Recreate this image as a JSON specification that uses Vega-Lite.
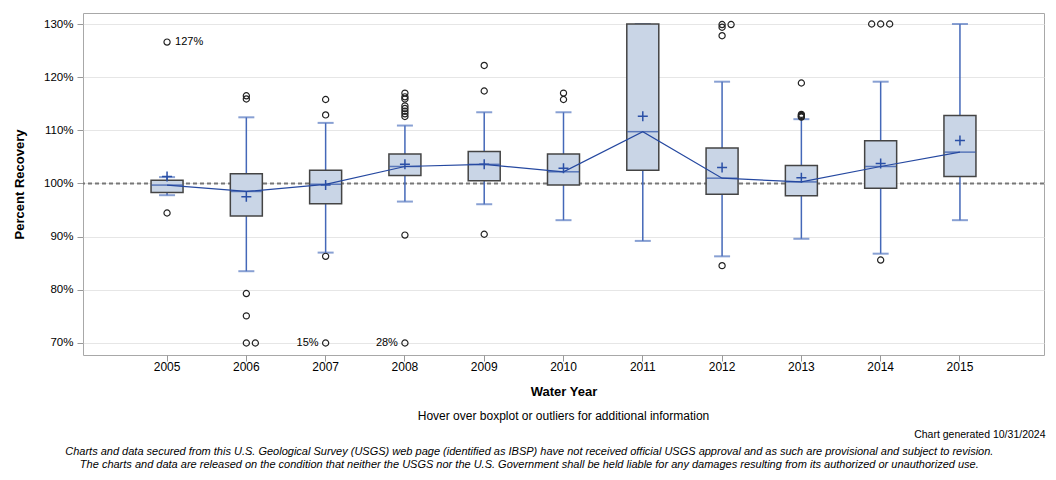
{
  "$schema": "https://vega.github.io/schema/vega-lite/v6.json",
  "padding": {"left": 13, "top": 12, "right": 11, "bottom": 6},
  "background": "white",
  "config": {
    "font": "Liberation Sans",
    "view": {"stroke": "#a8a8a8", "strokeWidth": 1},
    "title": {"color": "#000000"}
  },
  "datasets": {
    "boxes": [
      {"year": 2005, "lo": 97.8, "q1": 98.3, "med": 99.7, "q3": 100.6, "hi": 101.2, "mean": 101.3},
      {"year": 2006, "lo": 83.5, "q1": 93.9, "med": 98.5, "q3": 101.85, "hi": 112.45, "mean": 97.5},
      {"year": 2007, "lo": 87.0, "q1": 96.2, "med": 99.85, "q3": 102.5, "hi": 111.4, "mean": 99.7},
      {"year": 2008, "lo": 96.6, "q1": 101.5, "med": 103.2, "q3": 105.55, "hi": 110.9, "mean": 103.6},
      {"year": 2009, "lo": 96.1, "q1": 100.5, "med": 103.6, "q3": 106.0, "hi": 113.4, "mean": 103.6},
      {"year": 2010, "lo": 93.1, "q1": 99.7, "med": 102.2, "q3": 105.55, "hi": 113.4, "mean": 102.85},
      {"year": 2011, "lo": 89.2, "q1": 102.5, "med": 109.75, "q3": 130.0, "hi": 130.0, "mean": 112.65},
      {"year": 2012, "lo": 86.3, "q1": 98.0, "med": 101.0, "q3": 106.7, "hi": 119.15, "mean": 103.0},
      {"year": 2013, "lo": 89.6, "q1": 97.7, "med": 100.3, "q3": 103.4, "hi": 112.1, "mean": 101.1},
      {"year": 2014, "lo": 86.8, "q1": 99.1, "med": 103.2, "q3": 108.05, "hi": 119.15, "mean": 103.75},
      {"year": 2015, "lo": 93.1, "q1": 101.3, "med": 105.9, "q3": 112.8, "hi": 130.0, "mean": 108.1}
    ],
    "outliers": [
      {"year": 2005, "value": 126.6, "slot": "C", "label": "127%", "side": "R"},
      {"year": 2005, "value": 94.45, "slot": "C"},
      {"year": 2006, "value": 116.5, "slot": "C"},
      {"year": 2006, "value": 115.9, "slot": "C"},
      {"year": 2006, "value": 79.3, "slot": "C"},
      {"year": 2006, "value": 75.1, "slot": "C"},
      {"year": 2006, "value": 70.0, "slot": "C"},
      {"year": 2006, "value": 70.0, "slot": "R"},
      {"year": 2007, "value": 115.8, "slot": "C"},
      {"year": 2007, "value": 112.9, "slot": "C"},
      {"year": 2007, "value": 86.3, "slot": "C"},
      {"year": 2007, "value": 70.0, "slot": "C", "label": "15%", "side": "L"},
      {"year": 2008, "value": 117.0, "slot": "C"},
      {"year": 2008, "value": 116.3, "slot": "C"},
      {"year": 2008, "value": 115.9, "slot": "C"},
      {"year": 2008, "value": 114.6, "slot": "C"},
      {"year": 2008, "value": 114.1, "slot": "C"},
      {"year": 2008, "value": 113.6, "slot": "C"},
      {"year": 2008, "value": 113.1, "slot": "C"},
      {"year": 2008, "value": 112.6, "slot": "C"},
      {"year": 2008, "value": 90.3, "slot": "C"},
      {"year": 2008, "value": 70.0, "slot": "C", "label": "28%", "side": "L"},
      {"year": 2009, "value": 122.2, "slot": "C"},
      {"year": 2009, "value": 117.4, "slot": "C"},
      {"year": 2009, "value": 90.45, "slot": "C"},
      {"year": 2010, "value": 117.0, "slot": "C"},
      {"year": 2010, "value": 115.8, "slot": "C"},
      {"year": 2012, "value": 129.9, "slot": "C"},
      {"year": 2012, "value": 129.4, "slot": "C"},
      {"year": 2012, "value": 127.8, "slot": "C"},
      {"year": 2012, "value": 129.9, "slot": "R"},
      {"year": 2012, "value": 84.55, "slot": "C"},
      {"year": 2013, "value": 118.9, "slot": "C"},
      {"year": 2013, "value": 113.0, "slot": "C"},
      {"year": 2013, "value": 112.8, "slot": "C"},
      {"year": 2013, "value": 112.6, "slot": "C"},
      {"year": 2013, "value": 112.5, "slot": "C"},
      {"year": 2014, "value": 130.0, "slot": "L"},
      {"year": 2014, "value": 130.0, "slot": "C"},
      {"year": 2014, "value": 130.0, "slot": "R"},
      {"year": 2014, "value": 85.6, "slot": "C"}
    ]
  },
  "title": {
    "text": [
      "Charts and data secured from this U.S. Geological Survey (USGS) web page (identified as IBSP) have not received official USGS approval and as such are provisional and subject to revision.",
      "The charts and data are released on the condition that neither the USGS nor the U.S. Government shall be held liable for any damages resulting from its authorized or unauthorized use."
    ],
    "orient": "bottom",
    "anchor": "middle",
    "frame": "bounds",
    "fontSize": 11,
    "fontStyle": "italic",
    "fontWeight": "normal",
    "lineHeight": 13,
    "offset": 6
  },
  "vconcat": [
    {
      "title": {
        "text": "Chart generated 10/31/2024",
        "orient": "bottom",
        "anchor": "end",
        "fontSize": 10.5,
        "fontWeight": "normal",
        "offset": 7
      },
      "vconcat": [
        {
          "title": {
            "text": "Hover over boxplot or outliers for additional information",
            "orient": "bottom",
            "anchor": "middle",
            "frame": "group",
            "fontSize": 12,
            "fontWeight": "normal",
            "offset": 13
          },
          "width": 961,
          "height": 342,
          "layer": [
            {
              "data": {"values": [{"ref": 100}]},
              "mark": {"type": "rule", "color": "#777777", "strokeWidth": 2, "strokeDash": [4, 3]},
              "encoding": {
                "y": {"field": "ref", "type": "quantitative", "title": "Percent Recovery",
                      "scale": {"domain": [67.74, 132.07], "nice": false, "zero": false},
                      "axis": {"values": [70, 80, 90, 100, 110, 120, 130], "labelExpr": "datum.value + '%'",
                               "grid": true, "gridColor": "#e6e6e6", "domain": false, "tickColor": "#999999",
                               "tickSize": 6, "labelFontSize": 11.5, "labelColor": "#000000", "labelPadding": 4,
                               "titleFontSize": 13, "titleFontWeight": "bold", "titlePadding": 17, "titleColor": "#000000"}}
              }
            },
            {
              "data": {"name": "boxes"},
              "mark": {"type": "rule", "color": "#4468b8", "strokeWidth": 1.5},
              "encoding": {
                "x": {"field": "year", "type": "ordinal", "title": "Water Year",
                      "scale": {"paddingInner": 0, "paddingOuter": 0.56},
                      "axis": {"labelAngle": 0, "tickColor": "#999999", "tickSize": 6, "domain": false,
                               "labelFontSize": 12, "labelColor": "#000000", "labelPadding": 0,
                               "titleFontSize": 13, "titleFontWeight": "bold", "titlePadding": 13, "titleColor": "#000000", "grid": false}},
                "y": {"field": "lo", "type": "quantitative", "title": "Percent Recovery"},
                "y2": {"field": "hi"}
              }
            },
            {
              "data": {"name": "boxes"},
              "mark": {"type": "tick", "color": "#5578c0", "size": 16, "thickness": 2},
              "encoding": {
                "x": {"field": "year", "type": "ordinal", "title": "Water Year"},
                "y": {"field": "lo", "type": "quantitative", "title": "Percent Recovery"}
              }
            },
            {
              "data": {"name": "boxes"},
              "mark": {"type": "tick", "color": "#5578c0", "size": 16, "thickness": 2},
              "encoding": {
                "x": {"field": "year", "type": "ordinal", "title": "Water Year"},
                "y": {"field": "hi", "type": "quantitative", "title": "Percent Recovery"}
              }
            },
            {
              "data": {"name": "boxes"},
              "mark": {"type": "bar", "width": 32, "fill": "#c9d5e6", "stroke": "#444444", "strokeWidth": 1.5},
              "encoding": {
                "x": {"field": "year", "type": "ordinal", "title": "Water Year"},
                "y": {"field": "q1", "type": "quantitative", "title": "Percent Recovery"},
                "y2": {"field": "q3"}
              }
            },
            {
              "data": {"name": "boxes"},
              "mark": {"type": "tick", "color": "#2a4fa6", "size": 31, "thickness": 1.5},
              "encoding": {
                "x": {"field": "year", "type": "ordinal", "title": "Water Year"},
                "y": {"field": "med", "type": "quantitative", "title": "Percent Recovery"}
              }
            },
            {
              "data": {"name": "boxes"},
              "mark": {"type": "line", "color": "#2548a0", "strokeWidth": 1.2},
              "encoding": {
                "x": {"field": "year", "type": "ordinal", "title": "Water Year"},
                "y": {"field": "med", "type": "quantitative", "title": "Percent Recovery"}
              }
            },
            {
              "data": {"name": "boxes"},
              "mark": {"type": "point", "shape": "M-1,0L1,0M0,-1L0,1", "filled": false, "stroke": "#2a4fa6", "strokeWidth": 1.5, "size": 100, "opacity": 1},
              "encoding": {
                "x": {"field": "year", "type": "ordinal", "title": "Water Year"},
                "y": {"field": "mean", "type": "quantitative", "title": "Percent Recovery"}
              }
            },
            {
              "data": {"name": "outliers"},
              "mark": {"type": "point", "shape": "circle", "filled": false, "stroke": "#222222", "strokeWidth": 1.2, "size": 38, "opacity": 1},
              "encoding": {
                "x": {"field": "year", "type": "ordinal", "title": "Water Year"},
                "xOffset": {"field": "slot", "type": "nominal", "scale": {"type": "point", "domain": ["L", "C", "R"], "range": [30.65, 48.65], "padding": 0}},
                "y": {"field": "value", "type": "quantitative", "title": "Percent Recovery"}
              }
            },
            {
              "data": {"name": "outliers"},
              "transform": [{"filter": "datum.side === 'R'"}],
              "mark": {"type": "text", "align": "left", "baseline": "middle", "dx": 8, "fontSize": 11, "color": "#000000"},
              "encoding": {
                "x": {"field": "year", "type": "ordinal", "title": "Water Year"},
                "y": {"field": "value", "type": "quantitative", "title": "Percent Recovery"},
                "text": {"field": "label"}
              }
            },
            {
              "data": {"name": "outliers"},
              "transform": [{"filter": "datum.side === 'L'"}],
              "mark": {"type": "text", "align": "right", "baseline": "middle", "dx": -7, "fontSize": 11, "color": "#000000"},
              "encoding": {
                "x": {"field": "year", "type": "ordinal", "title": "Water Year"},
                "y": {"field": "value", "type": "quantitative", "title": "Percent Recovery"},
                "text": {"field": "label"}
              }
            }
          ]
        }
      ]
    }
  ]
}
